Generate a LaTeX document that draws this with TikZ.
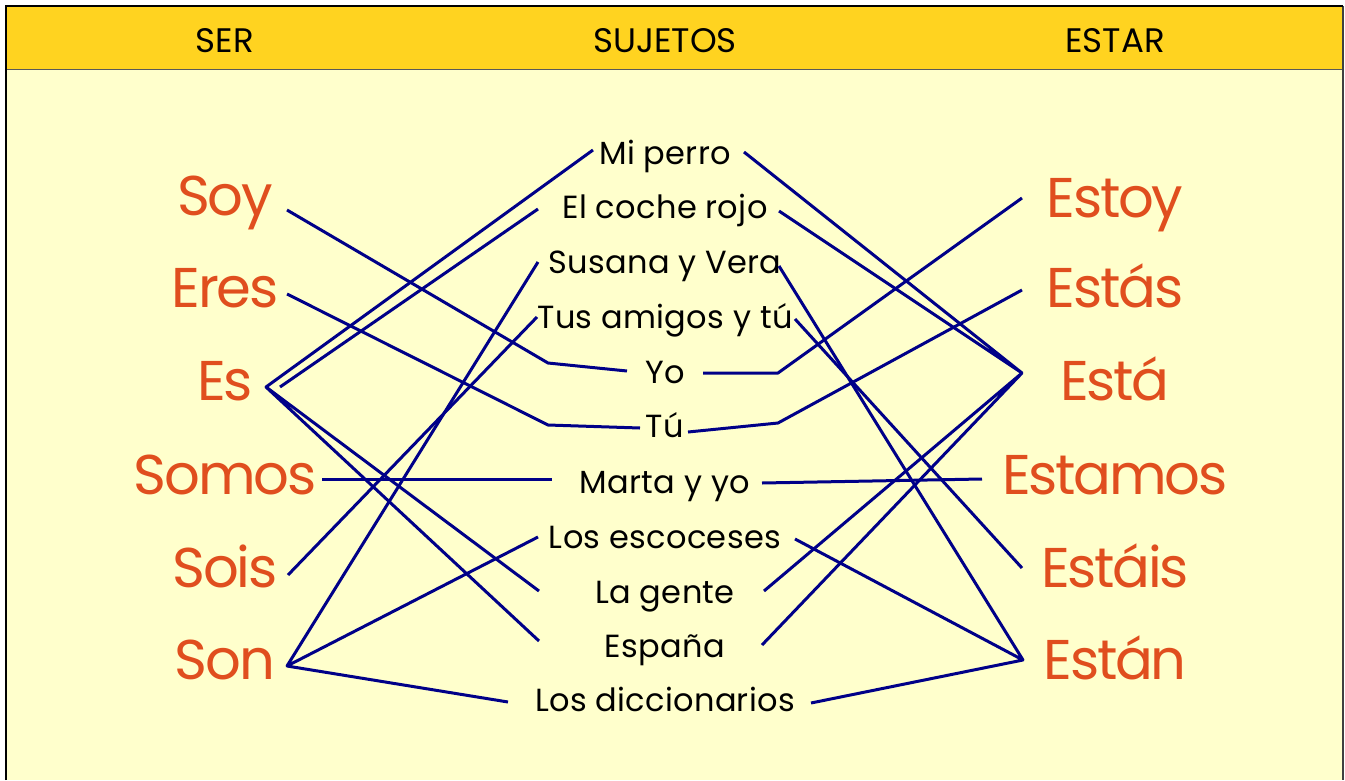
\documentclass[tikz,border=0pt]{standalone}
\usepackage{fontspec}
\setmainfont{Poppins}
\usepackage{tikz}
\definecolor{head}{HTML}{FFD320}
\definecolor{paper}{HTML}{FFFFCC}
\definecolor{verb}{HTML}{E04E1E}
\definecolor{link}{HTML}{000088}
\tikzset{
  hdr/.style={anchor=base, text=black, font=\fontsize{34}{40}\selectfont},
  verbo/.style={anchor=base, text=verb,
    font=\fontsize{56}{62}\selectfont\addfontfeatures{LetterSpace=-4}},
  suj/.style={anchor=base, text=black,
    font=\fontsize{32}{38}\selectfont\addfontfeatures{LetterSpace=1}},
  lnk/.style={draw=link, line width=3pt, line join=round},
}

\begin{document}
\begin{tikzpicture}[x=1pt,y=1pt]
  \useasboundingbox (0,0) rectangle (1345,-780);
  \fill[white] (0,0) rectangle (1345,-780);
  \fill[paper] (6,-6) rectangle (1343,-780);
  \fill[head] (6,-6) rectangle (1343,-69);
  \draw[gray!70!black, line width=1pt] (6,-69) -- (1343,-69);
  \draw[gray!50!black, line width=1.2pt] (1343,-6) -- (1343,-780);
  \draw[black, line width=2.4pt] (6,-780) -- (6,-6) -- (1343,-6);
  % headers
  \node[hdr] (ser) at (225,-52) {SER};
  \node[hdr] (sujetos) at (665,-52) {SUJETOS};
  \node[hdr] (estar) at (1115,-52) {ESTAR};
  % verbs
  \foreach \N/\T/\Y in {soy/Soy/215, eres/Eres/307, es/Es/400,
      somos/Somos/494, sois/Sois/587, son/Son/679}
    \node[verbo] (\N) at (225,-\Y) {\T};
  \foreach \N/\T/\Y in {estoy/Estoy/217, estas/Estás/307, esta/Está/400,
      estamos/Estamos/494, estais/Estáis/587, estan/Están/679}
    \node[verbo] (\N) at (1115,-\Y) {\T};
  % subjects
  \foreach \N/\T/\Y in {perro/Mi perro/164, coche/El coche rojo/218,
      susana/Susana y Vera/273, amigos/Tus amigos y tú/328, yo/Yo/383,
      tu/Tú/437, marta/Marta y yo/493, escoceses/Los escoceses/548,
      gente/La gente/603, espana/España/657, dicc/Los diccionarios/711}
    \node[suj] (\N) at (665,-\Y) {\T};
  % line ends
  \coordinate (soyE) at (287,-210);
  \coordinate (eresE) at (287,-294);
  \coordinate (esV) at (266,-387);
  \coordinate (esE) at (280,-387);
  \coordinate (somosE) at (322,-479);
  \coordinate (soisE) at (288,-575);
  \coordinate (sonV) at (287,-666);
  \coordinate (estoyW) at (1022,-198);
  \coordinate (estasW) at (1022,-290);
  \coordinate (estaV) at (1022,-373);
  \coordinate (estamosW) at (982,-479);
  \coordinate (estaisW) at (1022,-568);
  \coordinate (estanV) at (1023,-660);
  \coordinate (perroW) at (593,-150);    \coordinate (perroE) at (744,-152);
  \coordinate (cocheW) at (538,-209);    \coordinate (cocheE) at (779,-211);
  \coordinate (susanaW) at (538,-262);   \coordinate (susanaE) at (779,-266);
  \coordinate (amigosW) at (537,-317);   \coordinate (amigosE) at (795,-319);
  \coordinate (yoB) at (548,-363);       \coordinate (yoW) at (627,-371);
  \coordinate (yoE) at (703,-373);       \coordinate (yoC) at (778,-373);
  \coordinate (tuB) at (548,-425);       \coordinate (tuW) at (640,-428);
  \coordinate (tuE) at (688,-432);       \coordinate (tuC) at (778,-423);
  \coordinate (martaW) at (552,-479);    \coordinate (martaE) at (762,-483);
  \coordinate (escocesesW) at (538,-537);\coordinate (escocesesE) at (795,-539);
  \coordinate (genteW) at (539,-591);    \coordinate (genteE) at (764,-591);
  \coordinate (espanaW) at (539,-641);   \coordinate (espanaE) at (762,-645);
  \coordinate (diccW) at (508,-702);     \coordinate (diccE) at (811,-703);
  % ser
  \draw[lnk] (soyE) -- (yoB) -- (yoW);
  \draw[lnk] (eresE) -- (tuB) -- (tuW);
  \draw[lnk] (perroW) -- (esV) -- (genteW) (esV) -- (espanaW);
  \draw[lnk] (esE) -- (cocheW);
  \draw[lnk] (somosE) -- (martaW);
  \draw[lnk] (soisE) -- (amigosW);
  \draw[lnk] (susanaW) -- (sonV) -- (escocesesW) (sonV) -- (diccW);
  % estar
  \draw[lnk] (yoE) -- (yoC) -- (estoyW);
  \draw[lnk] (tuE) -- (tuC) -- (estasW);
  \draw[lnk] (perroE) -- (estaV) -- (cocheE) (genteE) -- (estaV) -- (espanaE);
  \draw[lnk] (martaE) -- (estamosW);
  \draw[lnk] (amigosE) -- (estaisW);
  \draw[lnk] (susanaE) -- (estanV) -- (escocesesE) (estanV) -- (diccE);
\end{tikzpicture}
\end{document}
